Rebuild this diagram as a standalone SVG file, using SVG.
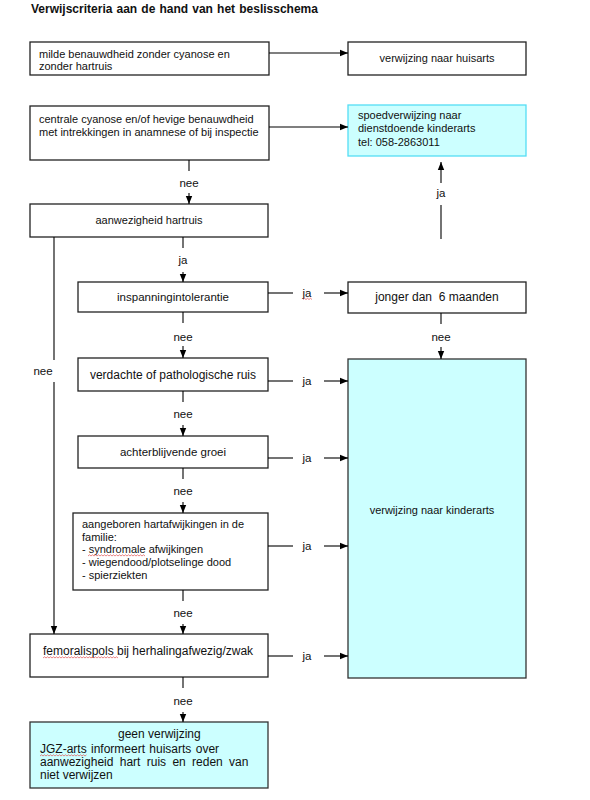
<svg xmlns="http://www.w3.org/2000/svg" width="590" height="800" viewBox="0 0 590 800">
<defs>
<marker id="ah" viewBox="0 0 8 8" refX="8" refY="4" markerWidth="8" markerHeight="8" markerUnits="userSpaceOnUse" orient="auto">
<path d="M0,0.8 L8,4 L0,7.2 Z" fill="#000"/>
</marker>
<style>
text{font-family:"Liberation Sans",Arial,sans-serif;font-size:11px;fill:#111;white-space:pre}
.t{font-weight:bold;font-size:12px;word-spacing:0.8px}
.m{text-anchor:middle}
.big{font-size:12px}
.lb{font-size:11.5px;text-anchor:middle}
.box{fill:#fff;stroke:#222;stroke-width:1.3}
.cy{fill:#ccffff;stroke:#333;stroke-width:1.3}
.cy2{fill:#ccffff;stroke:#55ddf5;stroke-width:1.3}
.c{fill:none;stroke:#000;stroke-width:1.1}
.a{fill:none;stroke:#000;stroke-width:1.1;marker-end:url(#ah)}
.sq{fill:none;stroke:#e05050;stroke-width:0.7}
</style>
</defs>
<rect width="590" height="800" fill="#fff"/>
<text class="t" x="31" y="13">Verwijscriteria aan de hand van het beslisschema</text>

<g id="n-milde">
<rect class="box" x="30" y="42" width="239" height="33"/>
<text x="39" y="58">milde benauwdheid zonder cyanose en</text>
<text x="39" y="70">zonder hartruis</text>
</g>
<g id="n-huisarts">
<rect class="box" x="348" y="42" width="178" height="33"/>
<text class="m" x="437" y="62">verwijzing naar huisarts</text>
</g>
<g id="n-centrale">
<rect class="box" x="30" y="106" width="239" height="54"/>
<text x="39" y="123">centrale cyanose en/of hevige benauwdheid</text>
<text x="39" y="136">met intrekkingen in anamnese of bij inspectie</text>
</g>
<g id="n-spoed">
<rect class="cy2" x="348" y="105" width="178" height="51"/>
<text x="358" y="119">spoedverwijzing naar</text>
<text x="358" y="132">dienstdoende kinderarts</text>
<text x="358" y="146">tel: 058-2863011</text>
</g>
<g id="n-aanwezigheid">
<rect class="box" x="30" y="204" width="238" height="33"/>
<text class="m" x="149" y="224">aanwezigheid hartruis</text>
</g>
<g id="n-insp">
<rect class="box" x="78" y="282" width="190" height="30"/>
<text class="m" x="173" y="301" style="font-size:11.5px">inspanningintolerantie</text>
</g>
<g id="n-jonger">
<rect class="box" x="348" y="282" width="178" height="31"/>
<text class="m big" x="437" y="301">jonger dan  6 maanden</text>
</g>
<g id="n-verdachte">
<rect class="box" x="78" y="358" width="190" height="33"/>
<text class="m big" x="173" y="379">verdachte of pathologische ruis</text>
</g>
<g id="n-achter">
<rect class="box" x="78" y="436" width="190" height="32"/>
<text class="m" x="173" y="456" style="font-size:11.5px">achterblijvende groei</text>
</g>
<g id="n-aangeboren">
<rect class="box" x="73" y="513" width="195" height="77"/>
<text x="82" y="528">aangeboren hartafwijkingen in de</text>
<text x="82" y="541">familie:</text>
<text x="82" y="553">- syndromale afwijkingen</text>
<text x="82" y="566">- wiegendood/plotselinge dood</text>
<text x="82" y="579">- spierziekten</text>
<path class="sq" d="M88,556 l1.5,-1.2 l1.5,1.2 l1.5,-1.2 l1.5,1.2 l1.5,-1.2 l1.5,1.2 l1.5,-1.2 l1.5,1.2 l1.5,-1.2 l1.5,1.2 l1.5,-1.2 l1.5,1.2 l1.5,-1.2 l1.5,1.2 l1.5,-1.2 l1.5,1.2 l1.5,-1.2 l1.5,1.2 l1.5,-1.2 l1.5,1.2 l1.5,-1.2 l1.5,1.2 l1.5,-1.2 l1.5,1.2 l1.5,-1.2 l1.5,1.2 l1.5,-1.2 l1.5,1.2 l1.5,-1.2 l1.5,1.2 l1.5,-1.2 l1.5,1.2 l1.5,-1.2 l1.5,1.2 l1.5,-1.2 l1.5,1.2 l1.5,-1.2 l1.5,1.2"/>
</g>
<g id="n-kinderarts">
<rect class="cy" x="348" y="359" width="178" height="319"/>
<text class="m" x="432" y="514">verwijzing naar kinderarts</text>
</g>
<g id="n-femoralis">
<rect class="box" x="30" y="634" width="238" height="43"/>
<text class="big" x="43" y="655">femoralispols bij herhalingafwezig/zwak</text>
<path class="sq" d="M43,658 l1.5,-1.2 l1.5,1.2 l1.5,-1.2 l1.5,1.2 l1.5,-1.2 l1.5,1.2 l1.5,-1.2 l1.5,1.2 l1.5,-1.2 l1.5,1.2 l1.5,-1.2 l1.5,1.2 l1.5,-1.2 l1.5,1.2 l1.5,-1.2 l1.5,1.2 l1.5,-1.2 l1.5,1.2 l1.5,-1.2 l1.5,1.2 l1.5,-1.2 l1.5,1.2 l1.5,-1.2 l1.5,1.2 l1.5,-1.2 l1.5,1.2 l1.5,-1.2 l1.5,1.2 l1.5,-1.2 l1.5,1.2 l1.5,-1.2 l1.5,1.2 l1.5,-1.2 l1.5,1.2 l1.5,-1.2 l1.5,1.2 l1.5,-1.2 l1.5,1.2 l1.5,-1.2 l1.5,1.2 l1.5,-1.2 l1.5,1.2 l1.5,-1.2 l1.5,1.2 l1.5,-1.2 l1.5,1.2 l1.5,-1.2 l1.5,1.2 l1.5,-1.2 l1.5,1.2"/>
</g>
<g id="n-geen">
<rect class="cy" x="30" y="722" width="238" height="66"/>
<text class="big" x="118" y="738">geen verwijzing</text>
<text class="big" x="40" y="753" style="word-spacing:1px">JGZ-arts informeert huisarts over</text>
<text class="big" x="40" y="766" style="word-spacing:3px">aanwezigheid hart ruis en reden van</text>
<text class="big" x="40" y="779">niet verwijzen</text>
<path class="sq" d="M40,756 l1.5,-1.2 l1.5,1.2 l1.5,-1.2 l1.5,1.2 l1.5,-1.2 l1.5,1.2 l1.5,-1.2 l1.5,1.2 l1.5,-1.2 l1.5,1.2 l1.5,-1.2 l1.5,1.2 l1.5,-1.2 l1.5,1.2 l1.5,-1.2 l1.5,1.2 l1.5,-1.2 l1.5,1.2 l1.5,-1.2 l1.5,1.2 l1.5,-1.2 l1.5,1.2 l1.5,-1.2 l1.5,1.2 l1.5,-1.2 l1.5,1.2 l1.5,-1.2 l1.5,1.2 l1.5,-1.2 l1.5,1.2 l1.5,-1.2"/>
</g>

<g id="connectors">
<path class="a" d="M269,53 H348"/>
<path class="a" d="M269,127 H348"/>
<path class="c" d="M189,160 V171"/>
<path class="a" d="M189,193 V204"/>
<path class="c" d="M183,237 V248"/>
<path class="a" d="M183,272 V282"/>
<path class="c" d="M54,237 V360"/>
<path class="a" d="M54,382 V634"/>
<path class="c" d="M268,293 H293"/>
<path class="a" d="M324,293 H348"/>
<path class="c" d="M441,313 V324"/>
<path class="a" d="M441,347 V359"/>
<path class="c" d="M441,239 V205"/>
<path class="a" d="M441,183 V162"/>
<path class="c" d="M183,312 V323"/>
<path class="a" d="M183,346 V358"/>
<path class="c" d="M183,391 V402"/>
<path class="a" d="M183,425 V436"/>
<path class="c" d="M183,468 V479"/>
<path class="a" d="M183,502 V513"/>
<path class="c" d="M183,590 V601"/>
<path class="a" d="M183,624 V634"/>
<path class="c" d="M183,677 V688"/>
<path class="a" d="M183,712 V722"/>
<path class="c" d="M268,381 H293"/>
<path class="a" d="M324,381 H348"/>
<path class="c" d="M268,458 H293"/>
<path class="a" d="M324,458 H348"/>
<path class="c" d="M268,546 H293"/>
<path class="a" d="M324,546 H348"/>
<path class="c" d="M268,656 H293"/>
<path class="a" d="M324,656 H348"/>
<text class="lb" x="189" y="187">nee</text>
<text class="lb" x="183" y="264">ja</text>
<text class="lb" x="43" y="375">nee</text>
<text class="lb" x="307" y="297">ja</text>
<path class="sq" d="M303,299.5 l1.5,-1.2 l1.5,1.2 l1.5,-1.2 l1.5,1.2 l1.5,-1.2 l1.5,1.2"/>
<text class="lb" x="441" y="341">nee</text>
<text class="lb" x="441" y="197">ja</text>
<text class="lb" x="183" y="341">nee</text>
<text class="lb" x="183" y="418">nee</text>
<text class="lb" x="183" y="495">nee</text>
<text class="lb" x="183" y="617">nee</text>
<text class="lb" x="183" y="705">nee</text>
<text class="lb" x="307" y="385">ja</text>
<text class="lb" x="307" y="462">ja</text>
<text class="lb" x="307" y="550">ja</text>
<text class="lb" x="307" y="660">ja</text>
</g>
</svg>
